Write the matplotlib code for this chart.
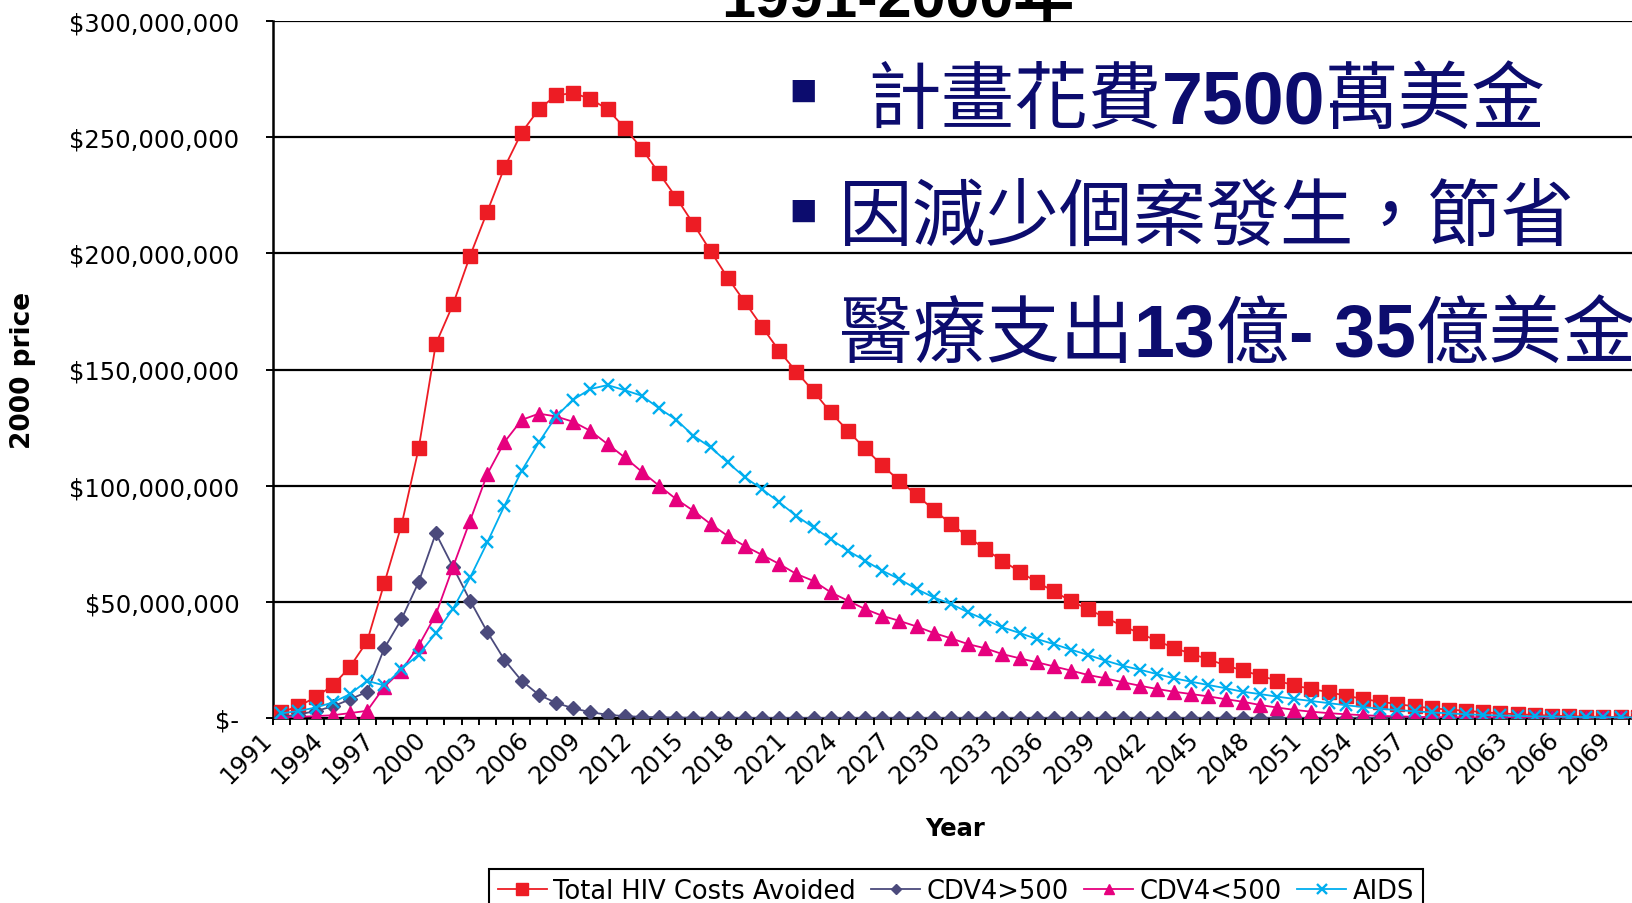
import numpy as np
import matplotlib.pyplot as plt
from matplotlib.ticker import FuncFormatter
from matplotlib.transforms import offset_copy

# category axis: one slot per year
years = np.arange(1991, 2071)

# costs avoided, millions of 2000 dollars
total_avoided = [2.5, 5, 9, 14, 22, 33, 58, 83, 116, 161,
                 178, 199, 218, 237, 252, 262, 268, 269, 266.5, 262,
                 254, 245, 234.5, 224, 212.7, 201, 189.5, 179, 168.4, 158,
                 149, 140.6, 131.5, 123.6, 116, 108.7, 102.1, 96, 89.6, 83.6,
                 78, 72.6, 67.7, 63, 58.5, 54.5, 50.3, 46.8, 43.2, 39.6,
                 36.5, 33.2, 30.2, 27.6, 25.3, 22.6, 20.5, 18.2, 16.1, 14,
                 12.5, 11.1, 9.6, 8.2, 7, 6, 5, 4.2, 3.6, 3.1,
                 2.5, 2, 1.6, 1.3, 1, 0.8, 0.6, 0.5, 0.4, 0.3]
cdv4_over_500 = [0.5, 1.5, 3, 5, 8, 11.3, 30, 42.5, 58.5, 79.5,
                 65, 50.5, 37, 25, 16, 10, 6.5, 4.2, 2.5, 1.4,
                 0.8, 0.5, 0.3, 0.2, 0.1, 0.1, 0.1, 0, 0, 0,
                 0, 0, 0, 0, 0, 0, 0, 0, 0, 0,
                 0, 0, 0, 0, 0, 0, 0, 0, 0, 0,
                 0, 0, 0, 0, 0, 0, 0, 0, 0, 0,
                 0, 0, 0, 0, 0, 0, 0, 0, 0, 0,
                 0, 0, 0, 0, 0, 0, 0, 0, 0, 0]
cdv4_under_500 = [0.3, 0.5, 0.8, 1.2, 2.1, 3.1, 13.4, 20.4, 31.1, 44.5,
                  65, 85, 105, 118.8, 128.3, 131, 129.8, 127.5, 123.6, 117.9,
                  112.2, 106, 100, 94.2, 89.2, 83.5, 78.4, 74, 70.2, 66.3,
                  62, 59, 54.1, 50.5, 46.9, 44, 41.8, 39.4, 36.6, 34.3,
                  31.8, 30, 27.5, 25.7, 24, 22.2, 20.4, 18.5, 17.1, 15.4,
                  13.9, 12.5, 11.3, 10.3, 9.3, 8.1, 7, 5.6, 4.5, 3.5,
                  2.7, 2.1, 1.6, 1.2, 0.9, 0.7, 0.5, 0.4, 0.3, 0.3,
                  0.2, 0.2, 0.2, 0.1, 0.1, 0.1, 0.1, 0.1, 0.1, 0.1]
aids = [2, 3, 4.5, 6.7, 10.3, 16, 14, 21, 27.3, 36.5,
        47, 60.5, 75.6, 91.4, 106.4, 118.6, 129.8, 137, 141.6, 143.3,
        141.1, 138.7, 133.3, 128.4, 121.5, 116.5, 110, 103.6, 98.5, 92.8,
        87, 82, 77, 72, 67.7, 63.4, 59.8, 55.5, 51.9, 49.1,
        45.5, 42.3, 39, 36.6, 34, 31.8, 29.4, 27.1, 24.7, 22.5,
        20.8, 18.9, 17.1, 15.6, 14.2, 12.8, 11.3, 10.3, 9.2, 8.2,
        7.3, 6.4, 5.5, 4.7, 4, 3.4, 2.9, 2.4, 2, 1.6,
        1.3, 1.1, 0.9, 0.7, 0.6, 0.5, 0.4, 0.3, 0.3, 0.2]

series_names = ['Total HIV Costs Avoided', 'CDV4>500', 'CDV4<500', 'AIDS']
y_ticks = [0, 50, 100, 150, 200, 250, 300]

W, H = 1632, 904
fig = plt.figure(figsize=(W / 100, H / 100), dpi=100)
ax = fig.add_axes([272.7 / W, 185 / H, 1373.6 / W, 697 / H])

x = np.arange(len(years)) + 0.5
styles = [
    dict(color='#ED1C24', marker='s', ms=10),
    dict(color='#4B4A7C', marker='D', ms=6.8),
    dict(color='#E6007E', marker='^', ms=9.5),
    dict(color='#00AEEF', marker='x', ms=8.5, mew=1.7),
]
for vals, name, st in zip([total_avoided, cdv4_over_500, cdv4_under_500, aids],
                          series_names, styles):
    ax.plot(x, np.array(vals) * 1e6, lw=1.3, label=name, mec=st['color'], **st)

ax.set_xlim(0, len(years))
ax.set_ylim(0, 300e6)
ax.set_yticks([v * 1e6 for v in y_ticks])
ax.yaxis.set_major_formatter(FuncFormatter(lambda v, p: '$-' if v == 0 else f'${v:,.0f}'))
ax.yaxis.grid(True, color='black', lw=1.6)
ax.set_axisbelow(True)
for s in ['top', 'right']:
    ax.spines[s].set_visible(False)
for s in ['left', 'bottom']:
    ax.spines[s].set_linewidth(1.8)
    ax.spines[s].set_zorder(0.5)

ax.set_xticks(np.arange(len(years) + 1))
ax.set_xticklabels([])
ax.tick_params(axis='x', direction='out', length=5, width=1.4)
ax.tick_params(axis='y', direction='out', length=5, width=1.4, labelsize=17.5, pad=19)

# every third year, slanted
lab_tr = offset_copy(ax.get_xaxis_transform(), fig=fig, x=0, y=-17, units='dots')
for i in range(0, len(years), 3):
    ax.text(i - 0.3, 0, str(years[i]), transform=lab_tr, rotation=45,
            ha='right', va='center', rotation_mode='anchor', fontsize=17.5)

fig.text(23 / W, 1 - 370 / H, '2000 price', rotation=90, ha='center', va='center',
         fontsize=19, weight='bold')
fig.text(955 / W, 1 - 829 / H, 'Year', ha='center', va='center', fontsize=17.5, weight='bold')

leg = ax.legend(loc='upper left', bbox_to_anchor=(489 / W, 1 - 870 / H),
                bbox_transform=fig.transFigure, ncol=4, fancybox=False,
                edgecolor='black', framealpha=1, handlelength=1.9, handletextpad=0.25,
                columnspacing=0.6, borderpad=0.35, fontsize=18.5, numpoints=1,
                markerscale=0.8, borderaxespad=0)
leg.get_frame().set_linewidth(1.5)

fig.text(898 / W, 1 - 17 / H, '1991-2000年', ha='center', va='baseline', fontsize=44,
         weight='bold', family=['Liberation Sans', 'Noto Sans CJK TC'])

# overlaid notes, navy, numbers in bold latin face
navy = '#0C0C6E'
renderer = fig.canvas.get_renderer()


def note_line(x_px, base_px, parts):
    for s, bold in parts:
        t = fig.text(x_px / W, 1 - base_px / H, s, ha='left', va='baseline', color=navy,
                     fontsize=53,
                     family=['Liberation Sans', 'Noto Sans CJK TC'] if bold else ['Noto Sans CJK TC'],
                     weight='bold' if bold else 'normal')
        x_px = t.get_window_extent(renderer).x1


for cy in [91, 211]:
    fig.text(803 / W, 1 - cy / H, '■', ha='center', va='center', color=navy,
             fontsize=21, family='DejaVu Sans')

note_line(867, 123, [('計畫花費', False), ('7500', True), ('萬美金', False)])
note_line(839, 240, [('因減少個案發生，節省', False)])
note_line(839, 357, [('醫療支出', False), ('13', True), ('億', False), ('- 35', True),
                     ('億美金', False)])

fig.savefig('out.png', dpi=100)
